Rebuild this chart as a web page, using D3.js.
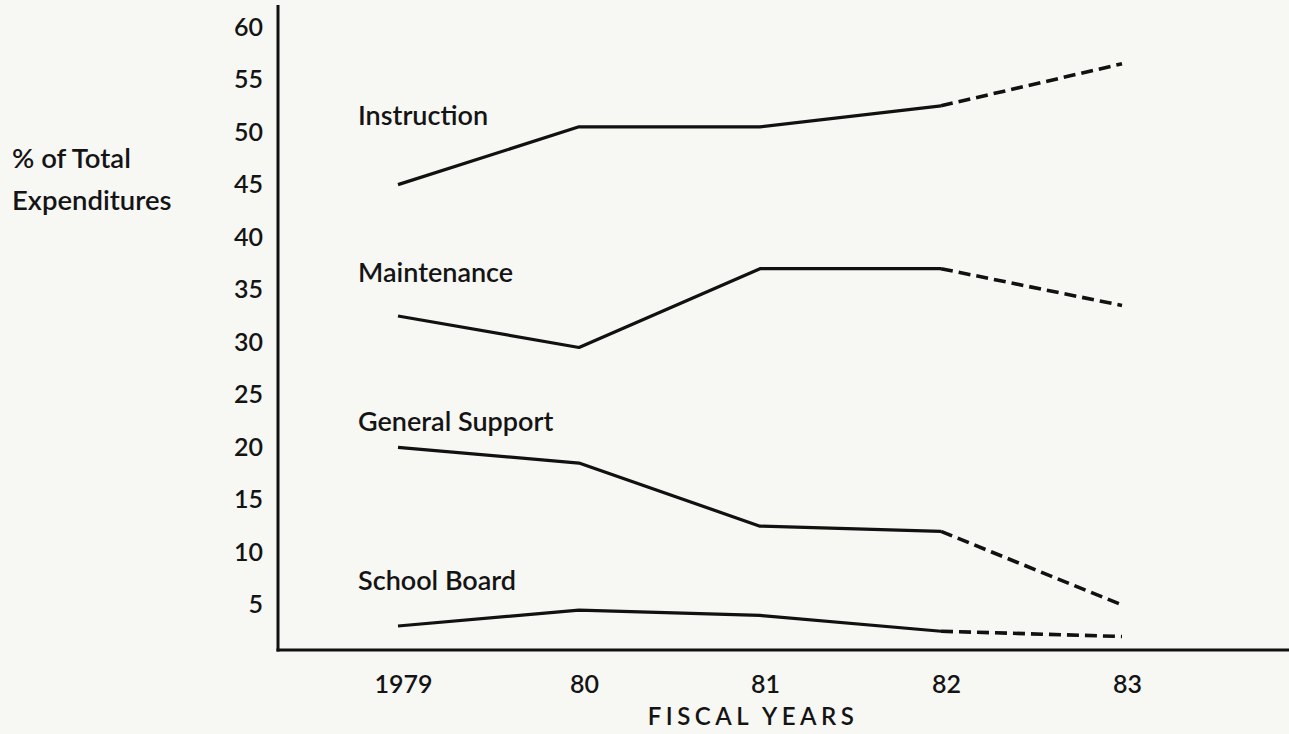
<!DOCTYPE html>
<html>
<head>
<meta charset="utf-8">
<script src="https://cdn.jsdelivr.net/npm/d3@7"></script>
<style>
  body { margin: 0; background: #f7f7f4; }
  svg { display: block; }
  text { font-family: Lato, "Open Sans", sans-serif; fill: #141414; font-weight: 600; }
</style>
</head>
<body>
<div id="vis1"></div>
<script>
// data (% of total expenditures)
const YEARS = ["1979", "80", "81", "82", "83"];
const INSTRUCTION = [45, 50.5, 50.5, 52.5, 56.5];
const MAINTENANCE = [32.5, 29.5, 37, 37, 33.5];
const GENERAL_SUPPORT = [20, 18.5, 12.5, 12, 5];
const SCHOOL_BOARD = [3, 4.5, 4, 2.5, 2];
const SERIES_NAMES = ["Instruction", "Maintenance", "General Support", "School Board"];
const Y_TICKS = [5, 10, 15, 20, 25, 30, 35, 40, 45, 50, 55, 60];
const PROJECTED_FROM = 3; // 82 -> 83 is drawn dashed

const FRAME_WIDTH = 1289;
const FRAME_HEIGHT = 734;
const AXIS_X = 278;
const AXIS_Y = 650;
const AXIS_TOP = 5;
// level (in % units) at which each series name sits
const LABEL_LEVEL = [50.7, 35.7, 21.6, 6.4];
const LABEL_X = 358;

const FRAME1 = d3.select("#vis1")
                  .append("svg")
                    .attr("width", FRAME_WIDTH)
                    .attr("height", FRAME_HEIGHT);

const X_SCALE = d3.scalePoint()
                  .domain(YEARS)
                  .range([398, 1122]);

const Y_SCALE = d3.scaleLinear()
                  .domain([0, 60])
                  .range([657.5, 27]);

// axes lines
FRAME1.append("line")
      .attr("x1", AXIS_X).attr("x2", AXIS_X)
      .attr("y1", AXIS_TOP).attr("y2", AXIS_Y + 1.5)
      .attr("stroke", "#111").attr("stroke-width", 3);

FRAME1.append("line")
      .attr("x1", AXIS_X - 1.5).attr("x2", FRAME_WIDTH)
      .attr("y1", AXIS_Y).attr("y2", AXIS_Y)
      .attr("stroke", "#111").attr("stroke-width", 3.2);

// y tick labels
const yAxis = FRAME1.append("g")
      .attr("transform", "translate(" + AXIS_X + ",0)")
      .call(d3.axisLeft(Y_SCALE).tickValues(Y_TICKS).tickSize(0).tickPadding(15));
yAxis.select(".domain").remove();
yAxis.selectAll("text")
     .attr("font-size", "25px")
     .attr("font-family", "Lato, sans-serif")
     .attr("font-weight", 600)
     .attr("fill", "#141414");

// x tick labels
const xAxis = FRAME1.append("g")
      .attr("transform", "translate(5," + AXIS_Y + ")")
      .call(d3.axisBottom(X_SCALE).tickSize(0).tickPadding(25));
xAxis.select(".domain").remove();
xAxis.selectAll("text")
     .attr("font-size", "25px")
     .attr("font-family", "Lato, sans-serif")
     .attr("font-weight", 600)
     .attr("fill", "#141414");

FRAME1.append("text")
      .attr("x", 753)
      .attr("y", 725)
      .attr("text-anchor", "middle")
      .attr("font-size", "24px")
      .attr("font-weight", 400)
      .attr("letter-spacing", "4.5px")
      .text("FISCAL YEARS");

// y title
FRAME1.append("text")
      .attr("x", 12).attr("y", 168)
      .attr("font-size", "27.5px")
      .text("% of Total");
FRAME1.append("text")
      .attr("x", 12).attr("y", 210)
      .attr("font-size", "27.5px")
      .text("Expenditures");

const SERIES = [INSTRUCTION, MAINTENANCE, GENERAL_SUPPORT, SCHOOL_BOARD];

const line = d3.line()
               .x((d) => X_SCALE(d.year))
               .y((d) => Y_SCALE(d.value));

SERIES.forEach((vals, i) => {
  const pts = vals.map((v, j) => ({year: YEARS[j], value: v}));

  FRAME1.append("path")
        .datum(pts.slice(0, PROJECTED_FROM + 1))
        .attr("d", line)
        .attr("fill", "none")
        .attr("stroke", "#111")
        .attr("stroke-width", 3.2)
        .attr("stroke-linejoin", "round");

  FRAME1.append("path")
        .datum(pts.slice(PROJECTED_FROM))
        .attr("d", line)
        .attr("fill", "none")
        .attr("stroke", "#111")
        .attr("stroke-width", 3.6)
        .attr("stroke-dasharray", "12,6");

  FRAME1.append("text")
        .attr("x", LABEL_X)
        .attr("y", Y_SCALE(LABEL_LEVEL[i]))
        .attr("font-size", "27px")
        .text(SERIES_NAMES[i]);
});
</script>
</body>
</html>
